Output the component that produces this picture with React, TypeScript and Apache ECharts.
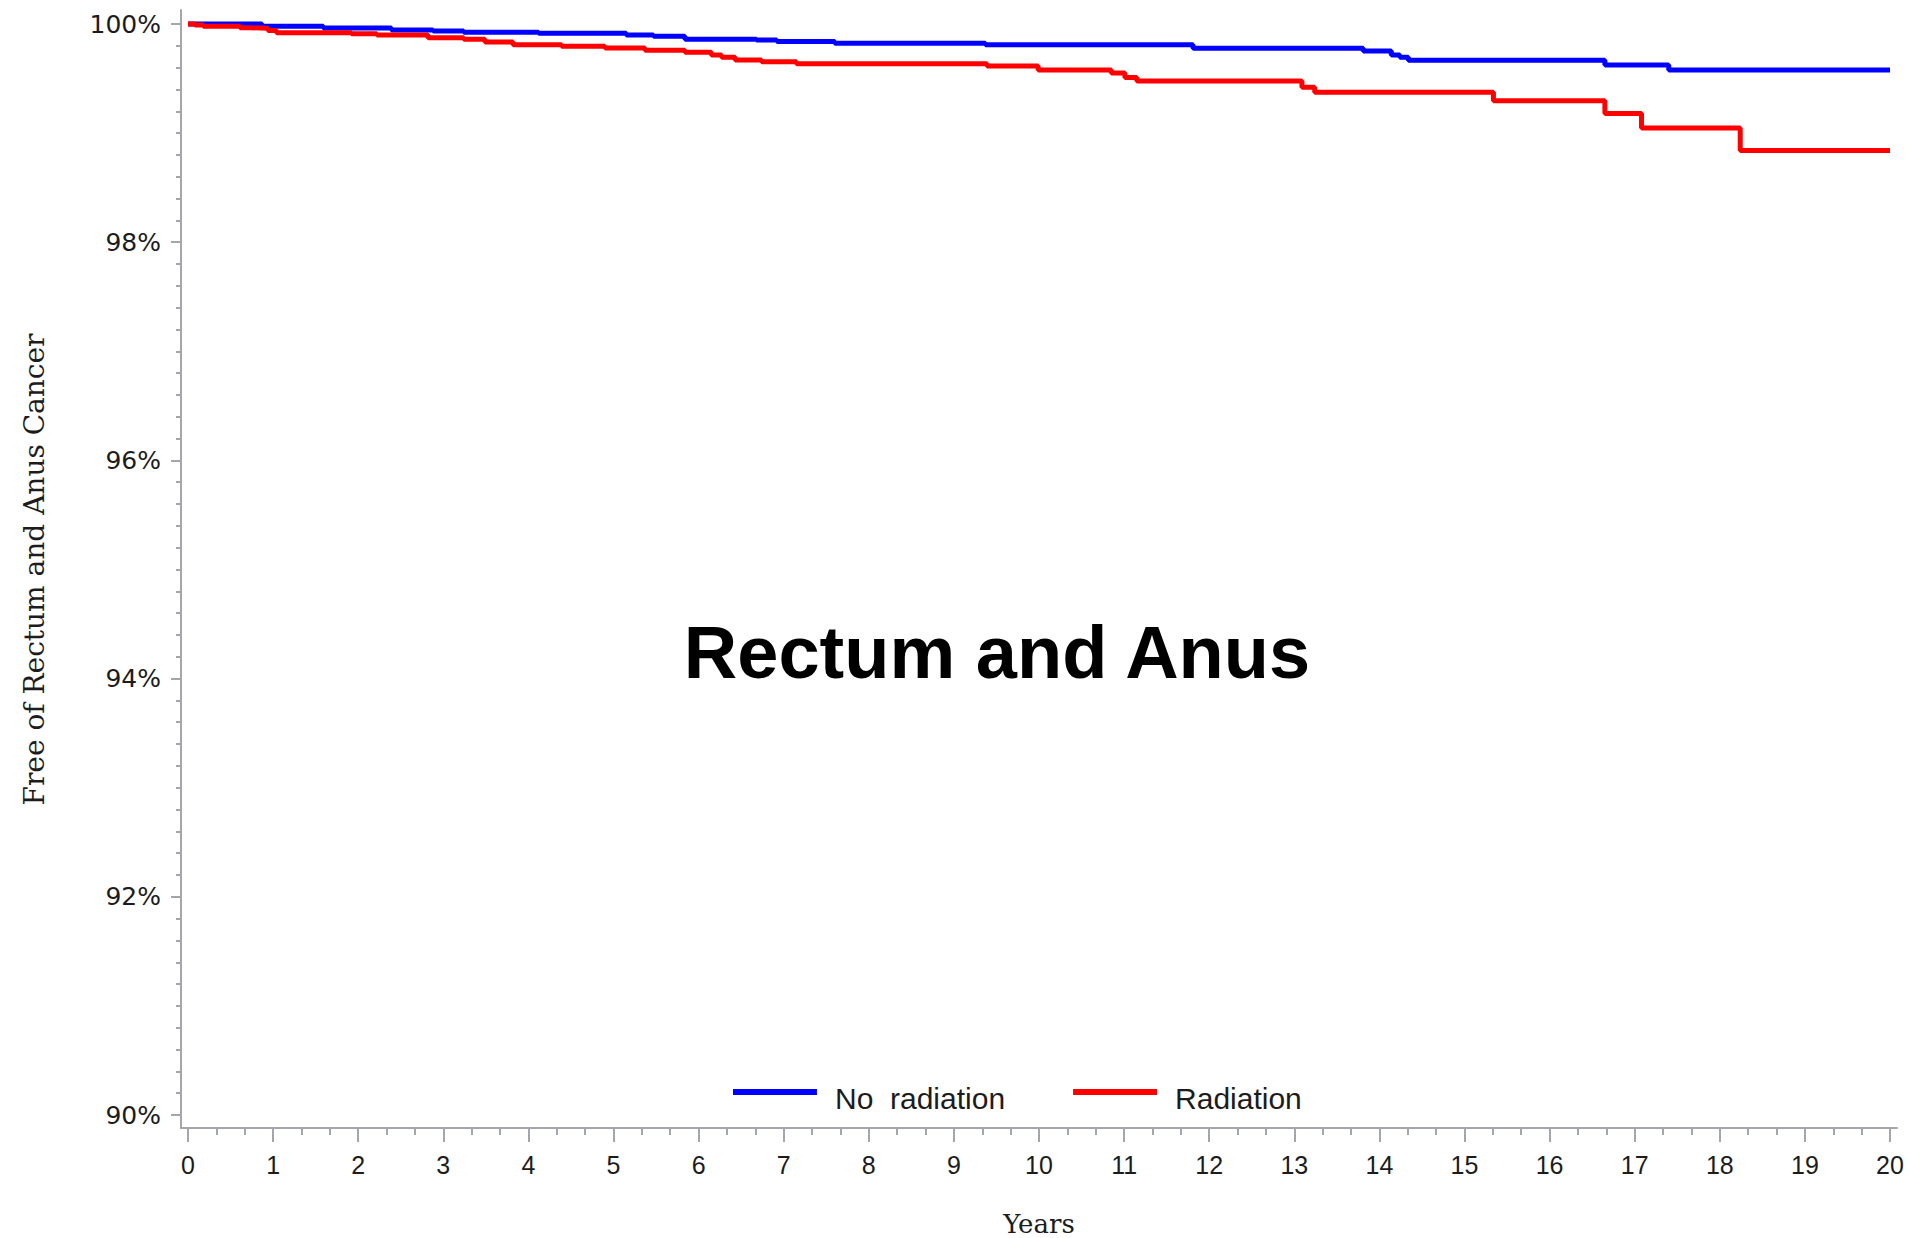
import { useEffect, useRef } from "react";
import * as echarts from "echarts";

// Kaplan–Meier estimates: time of each drop (years) and the survival value after it (%)
const noRadiationYears = [
  0, 0.87, 1.59, 2.39, 2.88, 3.24, 4.12, 5.15, 5.47, 5.84, 6.68, 6.92, 7.6, 9.37,
  11.81, 13.81, 14.14, 14.24, 14.34, 16.65, 17.4, 20,
];
const noRadiationFree = [
  100, 99.98, 99.963, 99.945, 99.936, 99.924, 99.915, 99.9, 99.887, 99.86, 99.853,
  99.84, 99.823, 99.81, 99.778, 99.753, 99.716, 99.695, 99.667, 99.624, 99.578,
  99.578,
];

const radiationYears = [
  0, 0.08, 0.18, 0.61, 0.73, 0.94, 1.04, 1.92, 2.22, 2.82, 3.24, 3.49, 3.82, 4.39,
  4.9, 5.37, 5.84, 6.15, 6.27, 6.43, 6.74, 7.15, 9.39, 9.99, 10.85, 11.01, 11.15,
  13.09, 13.24, 15.34, 16.65, 17.08, 18.24, 20,
];
const radiationFree = [
  100, 99.99, 99.98, 99.966, 99.96, 99.94, 99.92, 99.91, 99.9, 99.875, 99.86,
  99.835, 99.81, 99.795, 99.78, 99.76, 99.74, 99.716, 99.695, 99.67, 99.655,
  99.636, 99.615, 99.578, 99.55, 99.51, 99.478, 99.42, 99.374, 99.297, 99.18,
  99.047, 98.84, 98.84,
];

const groupNames = ["No radiation", "Radiation"];
const groupColors = ["#0000ff", "#ff0000"];

const chartTitle = "Rectum and Anus";
const yTitle = "Free of Rectum and Anus Cancer";
const xTitle = "Years";

const AXIS_GRAY = "#a3a7ab";
const TEXT = "#1c1c1c";
const SANS = '"Liberation Sans", Arial, sans-serif';
const WIDE_SANS = '"DejaVu Sans", sans-serif';
const SERIF = '"DejaVu Serif", serif';

// Legend swatch: a thin bar sitting in the upper part of its box, so the
// label (centred on the box) lands slightly below the bar.
const LEGEND_SWATCH = "path://M0,0L84,0L84,6L0,6Z M0,18L0.01,18L0.01,18.01Z";

const zip = (xs: number[], ys: number[]) => xs.map((x, i) => [x, ys[i]]);

export default function App() {
  const ref = useRef<HTMLDivElement>(null);

  useEffect(() => {
    if (!ref.current) return;
    const chart = echarts.init(ref.current, undefined, { renderer: "svg" });

    const tickStyle = { color: AXIS_GRAY, width: 2 };

    chart.setOption({
      animation: false,
      backgroundColor: "#ffffff",
      grid: [
        // data area
        { left: 188, right: 19, top: 24, bottom: 123, outerBoundsMode: "none", containLabel: false },
        // outer frame carrying the two axis lines
        { left: 181, right: 12, top: 10, bottom: 110, outerBoundsMode: "none", containLabel: false },
      ],
      xAxis: [
        {
          type: "value",
          gridIndex: 0,
          min: 0,
          max: 20,
          interval: 1,
          offset: 13,
          axisLine: { show: false, onZero: false },
          axisTick: { show: true, length: 14, lineStyle: tickStyle },
          minorTick: { show: true, splitNumber: 3, length: 7, lineStyle: tickStyle },
          splitLine: { show: false },
          minorSplitLine: { show: false },
          axisLabel: { margin: 24, fontSize: 25, fontFamily: SANS, color: TEXT },
          name: xTitle,
          nameLocation: "middle",
          nameGap: 83,
          nameTextStyle: { fontFamily: SERIF, fontSize: 26, color: TEXT },
        },
        {
          type: "value",
          gridIndex: 1,
          min: 0,
          max: 1,
          axisLine: { show: true, onZero: false, lineStyle: tickStyle },
          axisTick: { show: false },
          axisLabel: { show: false },
          splitLine: { show: false },
        },
      ],
      yAxis: [
        {
          type: "value",
          gridIndex: 0,
          min: 90,
          max: 100,
          interval: 2,
          offset: 7,
          axisLine: { show: false, onZero: false },
          axisTick: { show: true, length: 10, lineStyle: tickStyle },
          minorTick: { show: true, splitNumber: 10, length: 5, lineStyle: tickStyle },
          splitLine: { show: false },
          minorSplitLine: { show: false },
          axisLabel: {
            formatter: "{value}%",
            margin: 20,
            fontSize: 25,
            fontFamily: WIDE_SANS,
            color: TEXT,
          },
          name: yTitle,
          nameLocation: "middle",
          nameRotate: 90,
          nameGap: 133,
          nameTextStyle: { fontFamily: SERIF, fontSize: 28, color: TEXT },
        },
        {
          type: "value",
          gridIndex: 1,
          min: 0,
          max: 1,
          axisLine: { show: true, onZero: false, lineStyle: tickStyle },
          axisTick: { show: false },
          axisLabel: { show: false },
          splitLine: { show: false },
        },
      ],
      legend: {
        data: groupNames,
        left: 728,
        top: 1078,
        icon: LEGEND_SWATCH,
        itemWidth: 84,
        itemHeight: 18,
        itemGap: 68,
        formatter: (name: string) => name.replace(" ", "\u00a0 "),
        textStyle: {
          fontFamily: SANS,
          fontSize: 30,
          color: TEXT,
          padding: [0, 0, 0, 13],
        },
      },
      graphic: [
        {
          type: "text",
          x: 997,
          y: 652,
          z: 10,
          style: {
            text: chartTitle,
            font: `bold 74px ${SANS}`,
            fill: "#000000",
            align: "center",
            verticalAlign: "middle",
            textAlign: "center",
            textVerticalAlign: "middle",
          },
        },
      ],
      series: [
        {
          name: groupNames[0],
          type: "line",
          step: "end",
          xAxisIndex: 0,
          yAxisIndex: 0,
          data: zip(noRadiationYears, noRadiationFree),
          showSymbol: false,
          symbol: "none",
          clip: false,
          lineStyle: { color: groupColors[0], width: 5 },
          itemStyle: { color: groupColors[0] },
        },
        {
          name: groupNames[1],
          type: "line",
          step: "end",
          xAxisIndex: 0,
          yAxisIndex: 0,
          data: zip(radiationYears, radiationFree),
          showSymbol: false,
          symbol: "none",
          clip: false,
          lineStyle: { color: groupColors[1], width: 5 },
          itemStyle: { color: groupColors[1] },
        },
      ],
    });

    return () => chart.dispose();
  }, []);

  return (
    <div
      ref={ref}
      style={{ position: "fixed", left: 0, top: 0, width: 1909, height: 1238, background: "#fff" }}
    />
  );
}
